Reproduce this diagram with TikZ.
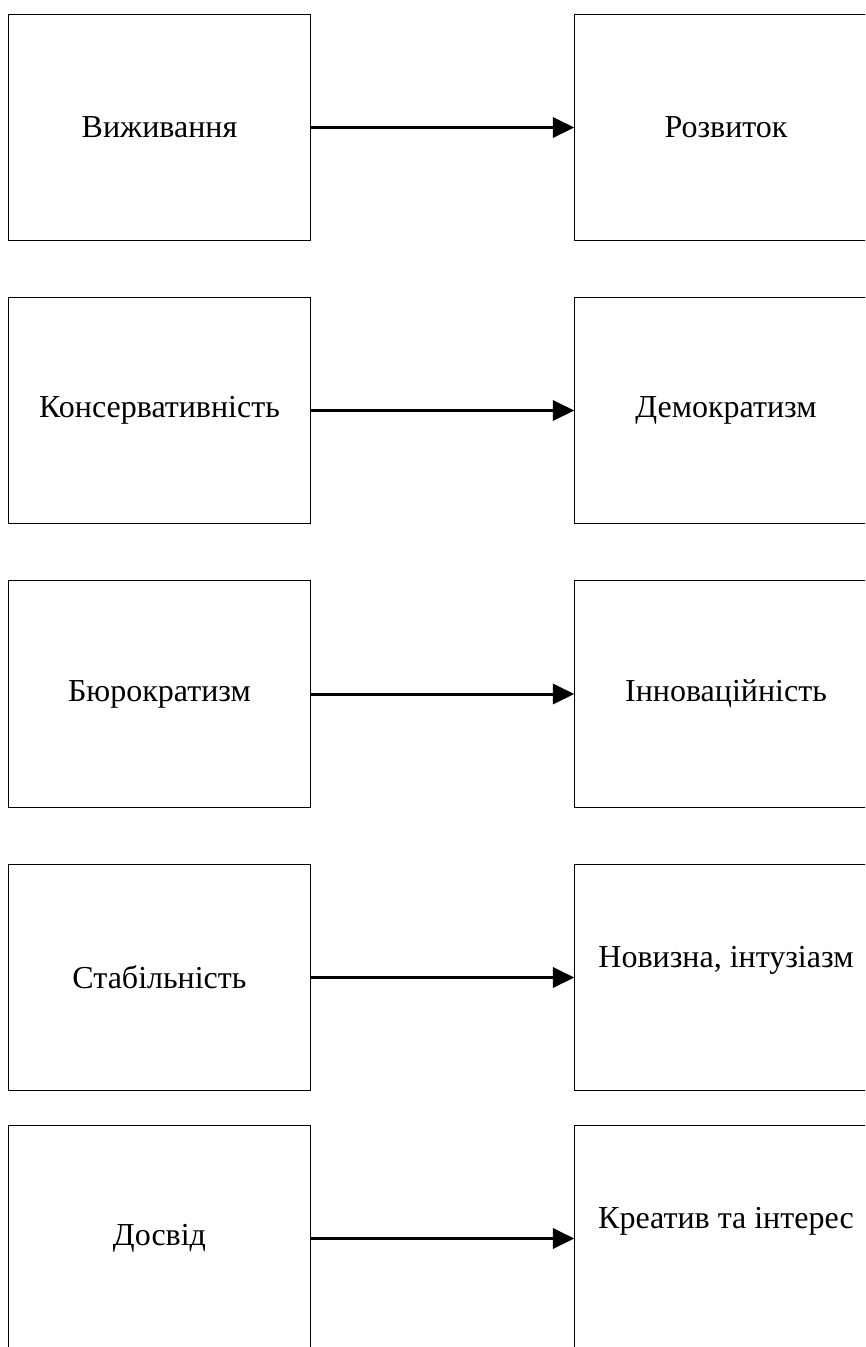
\documentclass[tikz,border=0pt]{standalone}
\usepackage{fontspec}
\setmainfont{Liberation Serif}
\usetikzlibrary{arrows.meta}

\begin{document}
\begin{tikzpicture}[x=0.75pt,y=-0.75pt,
	box/.style={draw,line width=0.75pt,minimum width=226.8pt,minimum height=169.8pt,
		inner sep=0pt,align=center,font=\fontsize{24}{28}\selectfont},
	raised/.style={text depth=31pt},
	arr/.style={-{Triangle[length=16pt,width=15pt]},line width=2.25pt}]
	\useasboundingbox (0,0) rectangle (865,1347);
	\clip (0,0) rectangle (865,1347);
	
	% left column
	\node[box] (l1) at (159.5,127.5) {Виживання};
	\node[box] (l2) at (159.5,410.5) {Консервативність};
	\node[box] (l3) at (159.5,694) {Бюрократизм};
	\node[box] (l4) at (159.5,977.5) {Стабільність};
	\node[box] (l5) at (159.5,1238.5) {Досвід};
	
	% right column
	\node[box] (r1) at (726,127.5) {Розвиток};
	\node[box] (r2) at (726,410.5) {Демократизм};
	\node[box] (r3) at (726,694) {Інноваційність};
	\node[box,raised] (r4) at (726,977.5) {Новизна, інтузіазм};
	\node[box,raised] (r5) at (726,1238.5) {Креатив та інтерес};
	
	\foreach \i in {1,...,5}
		\draw[arr] (l\i.east) -- (r\i.west);
\end{tikzpicture}
\end{document}
